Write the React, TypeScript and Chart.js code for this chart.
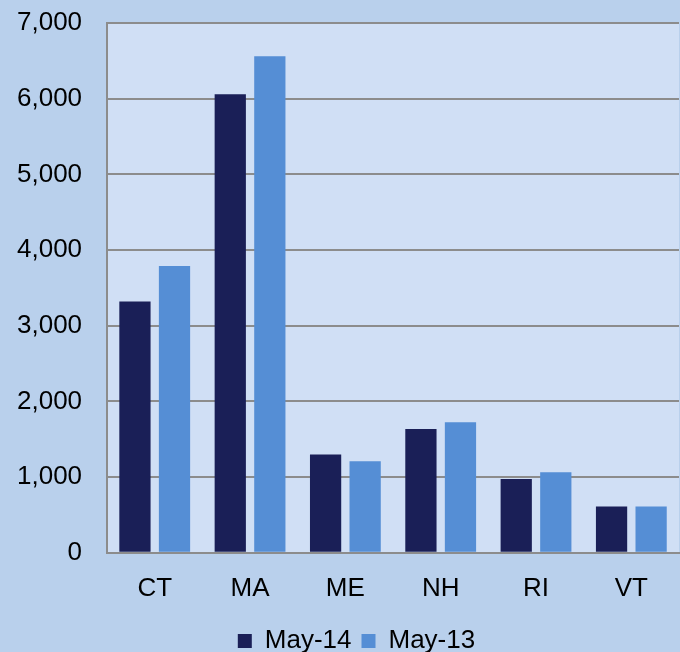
import React, { useEffect, useRef } from "react";
import { Chart, registerables } from "chart.js";

Chart.register(...registerables);

const categories = ["CT", "MA", "ME", "NH", "RI", "VT"];
const may14 = [3320, 6060, 1300, 1635, 975, 612];
const may13 = [3790, 6560, 1210, 1725, 1065, 612];
const seriesLabels = ["May-14", "May-13"];

const plotBg = {
  id: "plotBg",
  beforeDraw(chart: any) {
    const { ctx, chartArea } = chart;
    ctx.save();
    ctx.fillStyle = "#d0dff5";
    ctx.fillRect(chartArea.left, chartArea.top, chartArea.right - chartArea.left, chartArea.bottom - chartArea.top);
    ctx.restore();
  },
};

const legendShift = {
  id: "legendShift",
  afterLayout(chart: any) {
    if (chart.legend) {
      chart.legend.left += 21;
      chart.legend.right += 21;
    }
  },
};

export default function App() {
  const ref = useRef<HTMLCanvasElement>(null);
  useEffect(() => {
    const font = { family: "'Liberation Sans', Arial, sans-serif", size: 26 };
    const chart = new Chart(ref.current!, {
      type: "bar",
      data: {
        labels: categories,
        datasets: [
          { label: seriesLabels[0], data: may14, backgroundColor: "#1a1f57", categoryPercentage: 0.83, barPercentage: 0.79 },
          { label: seriesLabels[1], data: may13, backgroundColor: "#558ed5", categoryPercentage: 0.83, barPercentage: 0.79 },
        ],
      },
      options: {
        animation: false,
        responsive: false,
        layout: { padding: { left: -8, right: 1, top: 23, bottom: -12 } },
        plugins: {
          legend: {
            position: "bottom",
            labels: { font, color: "#000", boxWidth: 14, boxHeight: 14, padding: 10 },
          },
          tooltip: { enabled: false },
        },
        scales: {
          x: {
            grid: { display: false, drawTicks: false },
            border: { display: true, color: "#8c8c8c", width: 2 },
            ticks: { font, color: "#000", padding: 20 },
            afterFit: (scale: any) => {
              scale.height -= 6;
            },
          },
          y: {
            min: 0,
            max: 7000,
            grid: { color: "#8c8c8c", lineWidth: 2, drawTicks: false },
            border: { display: true, color: "#8c8c8c", width: 2 },
            ticks: {
              stepSize: 1000,
              font,
              color: "#000",
              padding: 25,
              callback: (v: any) => Number(v).toLocaleString("en-US"),
            },
            afterFit: (scale: any) => {
              scale.paddingTop = 0;
              scale.paddingBottom = 0;
            },
          },
        },
      },
      plugins: [plotBg, legendShift],
    });
    return () => chart.destroy();
  }, []);
  return (
    <div style={{ position: "absolute", left: 0, top: 0, width: 680, height: 652, background: "#b9d0ec" }}>
      <canvas ref={ref} width={680} height={652} />
    </div>
  );
}
